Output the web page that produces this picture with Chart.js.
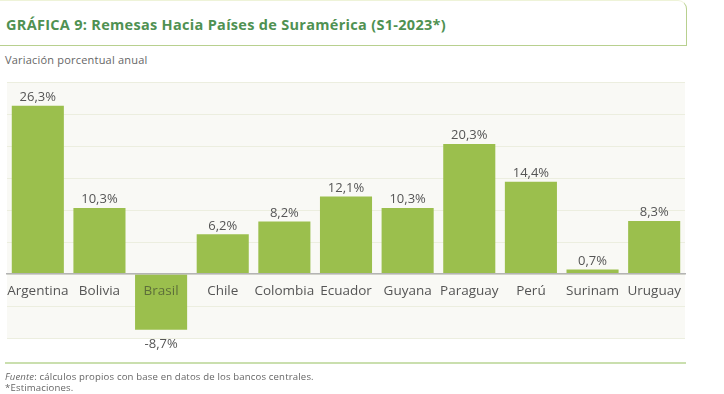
<!DOCTYPE html>
<html>
<head>
<meta charset="utf-8">
<script src="https://cdn.jsdelivr.net/npm/chart.js@4/dist/chart.umd.min.js"></script>
<style>
  html, body { margin:0; padding:0; background:#ffffff; }
  body { width:724px; height:394px; position:relative; overflow:hidden; font-family:"Open Sans", sans-serif; }
  #titlebox { position:absolute; left:-10px; top:0px; width:697px; height:46px; border-top:1px solid #eef3d8; border-right:1.5px solid #b8d08f; border-bottom:1.5px solid #b8d08f; border-top-right-radius:9px; box-sizing:border-box; }
  #title { position:absolute; left:6px; top:15px; font-size:14.5px; font-weight:700; color:#4f9152; white-space:nowrap; letter-spacing:0.3px; }
  #subtitle { position:absolute; left:5px; top:52px; font-size:11px; color:#666; white-space:nowrap; letter-spacing:0.2px; }
  #footline { position:absolute; left:5px; top:362px; width:681px; height:2px; background:#cadfae; }
  #foot1 { position:absolute; left:5px; top:370px; font-size:9.6px; color:#666; white-space:nowrap; letter-spacing:0.15px; }
  #foot2 { position:absolute; left:5px; top:381px; font-size:9.6px; color:#666; white-space:nowrap; letter-spacing:0.15px; }
  canvas { position:absolute; left:0; top:0; }
</style>
</head>
<body>
<div id="titlebox"></div>
<div id="title">GRÁFICA 9: Remesas Hacia Países de Suramérica (S1-2023*)</div>
<div id="subtitle">Variación porcentual anual</div>
<canvas id="c" width="724" height="394"></canvas>
<div id="footline"></div>
<div id="foot1"><i>Fuente</i>: cálculos propios con base en datos de los bancos centrales.</div>
<div id="foot2">*Estimaciones.</div>
<script>
const categories = ["Argentina", "Bolivia", "Brasil", "Chile", "Colombia", "Ecuador", "Guyana", "Paraguay", "Perú", "Surinam", "Uruguay"];
const values = [26.3, 10.3, -8.7, 6.2, 8.2, 12.1, 10.3, 20.3, 14.4, 0.7, 8.3];
const yTicks = [-10, -5, 0, 5, 10, 15, 20, 25, 30];

const fmt = v => v.toFixed(1).replace('.', ',') + '%';

const bgPlugin = {
  id: 'plotBg',
  beforeDraw(chart) {
    const a = chart.chartArea, ctx = chart.ctx;
    ctx.save();
    ctx.fillStyle = '#f9f9f5';
    ctx.fillRect(a.left, a.top, a.right - a.left, a.bottom - a.top);
    ctx.restore();
  }
};

const labelPlugin = {
  id: 'valueLabels',
  afterDatasetsDraw(chart) {
    const ctx = chart.ctx;
    const meta = chart.getDatasetMeta(0);
    ctx.save();
    ctx.font = '13px "Open Sans", sans-serif';
    ctx.fillStyle = '#555555';
    ctx.textAlign = 'center';
    meta.data.forEach((bar, i) => {
      const v = values[i];
      if (v >= 0) {
        ctx.textBaseline = 'bottom';
        ctx.fillText(fmt(v), bar.x, bar.y - 2);
      } else {
        ctx.textBaseline = 'top';
        ctx.fillText(fmt(v), bar.x, bar.y + 8);
      }
    });
    ctx.restore();
  }
};

new Chart(document.getElementById('c'), {
  type: 'bar',
  data: {
    labels: categories,
    datasets: [{
      data: values,
      backgroundColor: '#9bbf4d',
      borderWidth: 0,
      categoryPercentage: 1,
      barPercentage: 0.845
    }]
  },
  options: {
    responsive: false,
    devicePixelRatio: 1,
    animation: false,
    layout: { padding: { left: 7, right: 39, top: 82, bottom: 56 } },
    plugins: { legend: { display: false }, tooltip: { enabled: false } },
    scales: {
      x: {
        position: { y: 0 },
        grid: { display: false },
        border: { display: true, color: '#b4b4b4', width: 1.5, z: 1 },
        ticks: {
          z: 1,
          autoSkip: false,
          maxRotation: 0,
          padding: 1,
          font: { family: '"Open Sans", sans-serif', size: 13.5 },
          color: (c) => categories[c.index] === 'Brasil' ? '#5d6e3a' : '#555555'
        }
      },
      y: {
        min: yTicks[0],
        max: yTicks[yTicks.length - 1],
        afterBuildTicks: (s) => { s.ticks = yTicks.map(v => ({ value: v })); },
        ticks: { display: false },
        border: { display: false },
        grid: { drawTicks: false, color: '#eceedf', lineWidth: 1 }
      }
    }
  },
  plugins: [bgPlugin, labelPlugin]
});
</script>
</body>
</html>
